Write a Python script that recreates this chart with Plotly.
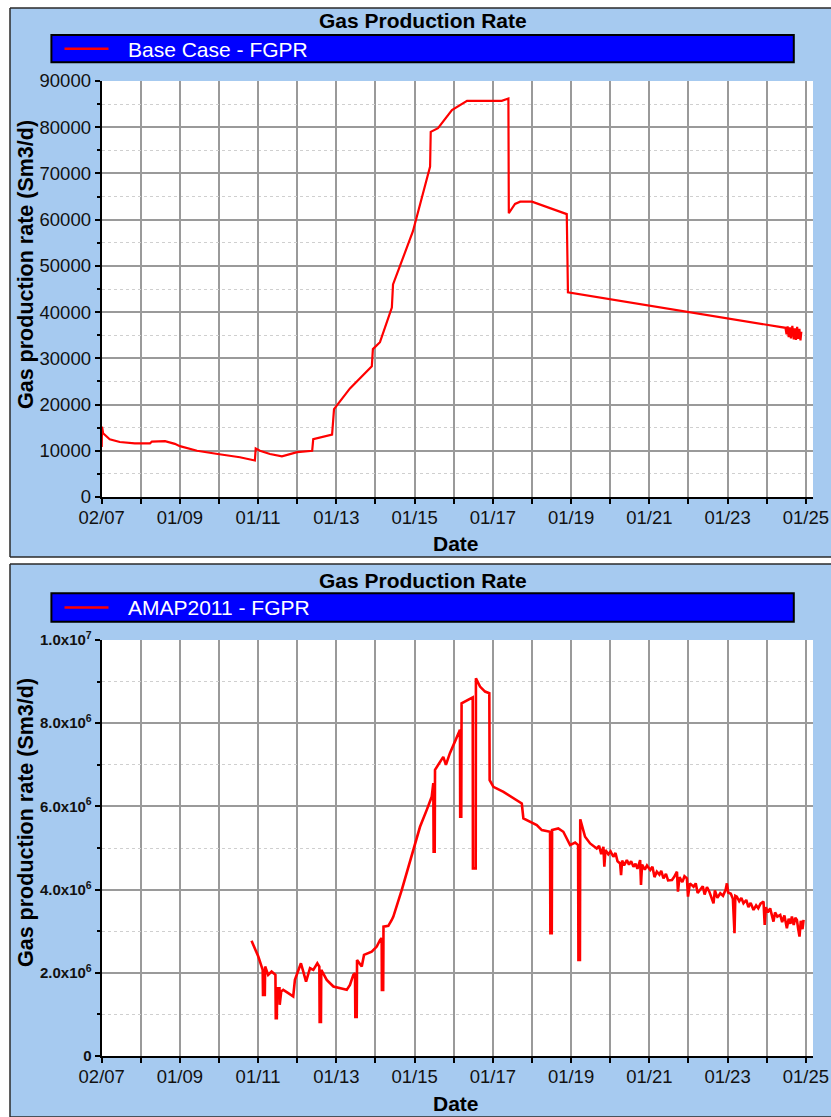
import plotly.graph_objects as go

# ---------------- data ----------------
# Base Case - FGPR (Sm3/d)
base_dates = [
    "2007-01-02", "2007-01-05", "2007-01-15", "2007-03-18", "2007-06-20", "2007-11-07",
    "2008-03-28", "2008-04-15", "2008-08-15", "2008-11-15", "2009-01-01", "2009-06-10",
    "2009-12-20", "2010-07-15", "2010-12-02", "2010-12-10", "2011-01-18", "2011-04-22",
    "2011-08-12", "2012-01-01", "2012-05-20", "2012-05-30", "2012-11-22", "2012-12-10",
    "2013-05-08", "2013-11-28", "2013-12-08", "2014-02-12", "2014-06-03", "2014-06-14",
    "2014-08-18", "2014-12-17", "2015-05-26", "2015-06-01", "2015-08-08", "2015-12-16",
    "2016-05-05", "2017-03-25", "2017-05-26", "2017-05-30", "2017-07-27", "2017-09-13",
    "2018-01-01", "2018-05-20", "2018-11-22", "2018-12-03", "2020-12-20", "2023-01-01",
    "2024-06-25", "2024-07-05", "2024-07-15", "2024-07-25", "2024-08-05", "2024-08-15",
    "2024-08-28", "2024-09-10", "2024-09-20", "2024-10-01", "2024-10-12", "2024-10-22",
    "2024-11-02", "2024-11-12", "2024-11-20",
]
base_fgpr = [
    10800, 15200, 13800, 12500, 11900, 11600,
    11600, 12000, 12100, 11500, 11000, 10000,
    9300, 8600, 7900, 10500, 10000, 9300,
    8800, 9700, 10000, 12500, 13500, 19000,
    23500, 28300, 32000, 33500, 41000, 46000,
    50000, 57500, 71500, 79000, 79800, 83700,
    85700, 85700, 86200, 61400, 63400, 63900,
    63900, 62700, 61200, 44300, 41500, 38700,
    36600, 35200, 36900, 34600, 36700, 34300,
    37000, 34100, 36500, 34000, 36800, 34200,
    36400, 33900, 35800,
]

# AMAP2011 - FGPR (Sm3/d)
amap_dates = [
    "2010-11-01", "2010-12-02", "2011-01-03", "2011-02-13", "2011-02-16", "2011-03-05",
    "2011-03-08", "2011-04-05", "2011-05-07", "2011-06-12", "2011-06-15", "2011-06-25",
    "2011-06-28", "2011-07-20", "2011-07-22", "2011-08-05", "2011-08-24", "2011-10-10",
    "2011-11-25", "2011-12-11", "2012-01-11", "2012-02-05", "2012-02-27", "2012-03-24",
    "2012-04-30", "2012-05-31", "2012-07-07", "2012-07-26", "2012-07-29", "2012-08-10",
    "2012-08-13", "2012-10-03", "2012-12-04", "2013-02-05", "2013-04-08", "2013-05-08",
    "2013-06-08", "2013-06-24", "2013-06-27", "2013-07-10", "2013-07-13", "2013-08-26",
    "2013-09-16", "2013-11-27", "2014-01-13", "2014-02-13", "2014-02-28", "2014-03-02",
    "2014-03-14", "2014-03-17", "2014-05-01", "2014-06-02", "2014-06-17", "2014-09-03",
    "2014-11-20", "2014-12-20", "2015-02-21", "2015-04-24", "2015-06-10", "2015-06-25",
    "2015-06-28", "2015-07-08", "2015-07-11", "2015-09-26", "2015-10-21", "2015-11-27",
    "2016-01-29", "2016-02-29", "2016-03-02", "2016-03-12", "2016-03-15", "2016-06-02",
    "2016-06-27", "2016-06-29", "2016-07-25", "2016-07-27", "2016-09-03", "2016-10-20",
    "2016-11-29", "2016-12-02", "2017-01-06", "2017-04-10", "2017-06-27", "2017-09-28",
    "2017-10-13", "2017-12-15", "2018-02-15", "2018-04-03", "2018-06-19", "2018-06-22",
    "2018-07-05", "2018-07-08", "2018-09-04", "2018-10-21", "2018-12-23", "2019-02-08",
    "2019-03-08", "2019-03-11", "2019-03-25", "2019-03-28", "2019-05-12", "2019-06-28",
    "2019-08-29", "2019-09-20", "2019-10-10", "2019-10-30", "2019-11-08", "2019-11-18",
    "2019-12-15", "2020-01-05", "2020-01-31", "2020-02-20", "2020-03-10", "2020-04-03",
    "2020-04-12", "2020-04-22", "2020-05-10", "2020-06-05", "2020-06-25", "2020-07-15",
    "2020-08-06", "2020-08-25", "2020-09-12", "2020-10-07", "2020-10-15", "2020-10-25",
    "2020-11-20", "2020-12-10", "2021-01-09", "2021-01-30", "2021-02-18", "2021-03-12",
    "2021-04-05", "2021-04-22", "2021-05-13", "2021-06-05", "2021-06-25", "2021-07-31",
    "2021-08-20", "2021-09-16", "2021-09-25", "2021-10-10", "2021-11-05", "2021-11-25",
    "2021-12-18", "2021-12-28", "2022-01-15", "2022-02-18", "2022-03-10", "2022-03-28",
    "2022-04-21", "2022-05-15", "2022-06-01", "2022-06-23", "2022-07-15", "2022-08-23",
    "2022-09-05", "2022-09-28", "2022-10-25", "2022-11-20", "2022-12-15", "2022-12-26",
    "2023-01-07", "2023-02-01", "2023-02-20", "2023-03-07", "2023-03-15", "2023-03-29",
    "2023-04-20", "2023-05-10", "2023-05-30", "2023-06-25", "2023-07-15", "2023-08-05",
    "2023-09-01", "2023-09-25", "2023-10-15", "2023-11-05", "2023-12-03", "2023-12-14",
    "2023-12-25", "2024-01-12", "2024-02-03", "2024-02-20", "2024-03-05", "2024-03-20",
    "2024-04-10", "2024-05-07", "2024-05-25", "2024-06-15", "2024-07-08", "2024-07-25",
    "2024-08-10", "2024-08-24", "2024-09-10", "2024-09-25", "2024-10-10", "2024-10-22",
    "2024-11-03", "2024-11-15", "2024-12-01", "2024-12-11",
]
amap_fgpr = [
    2.77e6, 2.59e6, 2.39e6, 2.07e6, 1.47e6, 1.47e6,
    2.15e6, 1.95e6, 2.03e6, 1.95e6, 0.91e6, 0.91e6,
    1.63e6, 1.63e6, 1.23e6, 1.55e6, 1.59e6, 1.51e6,
    1.43e6, 1.83e6, 2.07e6, 2.23e6, 2.03e6, 1.79e6,
    2.11e6, 2.07e6, 2.23e6, 2.15e6, 0.82e6, 0.82e6,
    2.07e6, 1.83e6, 1.67e6, 1.63e6, 1.59e6, 1.71e6,
    1.95e6, 1.99e6, 0.94e6, 0.94e6, 2.31e6, 2.15e6,
    2.43e6, 2.51e6, 2.63e6, 2.79e6, 2.83e6, 1.59e6,
    1.59e6, 3.11e6, 3.13e6, 3.27e6, 3.35e6, 3.99e6,
    4.71e6, 4.95e6, 5.51e6, 5.91e6, 6.23e6, 6.56e6,
    4.91e6, 4.91e6, 6.88e6, 7.19e6, 7.00e6, 7.28e6,
    7.64e6, 7.84e6, 5.75e6, 5.75e6, 8.48e6, 8.60e6,
    8.62e6, 4.51e6, 4.51e6, 9.08e6, 8.88e6, 8.76e6,
    8.72e6, 6.63e6, 6.47e6, 6.35e6, 6.23e6, 6.07e6,
    5.71e6, 5.63e6, 5.55e6, 5.43e6, 5.39e6, 2.95e6,
    2.95e6, 5.43e6, 5.47e6, 5.39e6, 5.07e6, 5.13e6,
    5.07e6, 2.31e6, 2.31e6, 5.69e6, 5.27e6, 5.11e6,
    4.99e6, 5.05e6, 4.85e6, 5.03e6, 4.55e6, 4.95e6,
    4.85e6, 4.92e6, 4.79e6, 4.88e6, 4.68e6, 4.63e6,
    4.35e6, 4.70e6, 4.58e6, 4.71e6, 4.60e6, 4.68e6,
    4.55e6, 4.62e6, 4.50e6, 4.71e6, 4.11e6, 4.60e6,
    4.48e6, 4.58e6, 4.47e6, 4.55e6, 4.30e6, 4.43e6,
    4.36e6, 4.45e6, 4.27e6, 4.38e6, 4.22e6, 4.23e6,
    4.30e6, 4.43e6, 3.95e6, 4.30e6, 4.18e6, 4.32e6,
    4.27e6, 3.83e6, 4.15e6, 4.07e6, 4.15e6, 3.92e6,
    3.99e6, 4.08e6, 3.88e6, 4.06e6, 3.95e6, 3.67e6,
    3.98e6, 3.80e6, 3.91e6, 3.85e6, 4.00e6, 4.15e6,
    3.93e6, 3.90e6, 3.78e6, 2.95e6, 3.85e6, 3.83e6,
    3.72e6, 3.80e6, 3.67e6, 3.75e6, 3.58e6, 3.68e6,
    3.51e6, 3.62e6, 3.55e6, 3.66e6, 3.71e6, 3.15e6,
    3.58e6, 3.45e6, 3.55e6, 3.40e6, 3.23e6, 3.45e6,
    3.35e6, 3.39e6, 3.22e6, 3.38e6, 3.07e6, 3.30e6,
    3.18e6, 3.35e6, 3.15e6, 3.32e6, 3.27e6, 3.05e6,
    2.87e6, 3.25e6, 3.05e6, 3.27e6,
]

# x-axis labels every second year (minor ticks/grid fill in the odd years)
x_tick_dates = ["2007-01-02", "2009-01-01", "2011-01-01", "2013-01-01", "2015-01-01",
                "2017-01-01", "2019-01-01", "2021-01-01", "2023-01-01", "2025-01-01"]
x_tick_text = ["02/07", "01/09", "01/11", "01/13", "01/15",
               "01/17", "01/19", "01/21", "01/23", "01/25"]

top_y_ticks = [0, 10000, 20000, 30000, 40000, 50000, 60000, 70000, 80000, 90000]
top_y_text = ["0", "10000", "20000", "30000", "40000", "50000", "60000", "70000", "80000", "90000"]
bot_y_ticks = [0, 2e6, 4e6, 6e6, 8e6, 1e7]
bot_y_text = ["0", "2.0x10<sup>6</sup>", "4.0x10<sup>6</sup>", "6.0x10<sup>6</sup>",
              "8.0x10<sup>6</sup>", "1.0x10<sup>7</sup>"]

chart_title = "Gas Production Rate"
legend_names = ["Base Case - FGPR", "AMAP2011 - FGPR"]
y_title = "Gas production rate (Sm3/d)"
x_title = "Date"

# ---------------- layout helpers ----------------
W, H = 831, 1117
FONT = "Liberation Sans, Arial, sans-serif"
PANEL = "#A6CAF0"
RED = "#FF0000"
GRID = "#9a9a9a"


def px(x):
    return min(max(x / W, 0.0), 1.0)


def py(y):
    return min(max(1 - y / H, 0.0), 1.0)


plot_x0, plot_x1 = 101.7, 813
panels = [
    dict(top=8, bottom=557, title=21, leg0=35, leg1=62.3, p0=81, p1=497, date=543, yt=265),
    dict(top=564, bottom=H, title=580, leg0=593.3, leg1=621.7, p0=640, p1=1056, date=1103, yt=823),
]

fig = go.Figure()
fig.add_trace(go.Scatter(x=base_dates, y=base_fgpr, mode="lines", name=legend_names[0],
                         line=dict(color=RED, width=2.2), xaxis="x", yaxis="y"))
fig.add_trace(go.Scatter(x=amap_dates, y=amap_fgpr, mode="lines", name=legend_names[1],
                         line=dict(color=RED, width=2.6), xaxis="x2", yaxis="y2"))

shapes = []
annotations = []
for i, p in enumerate(panels):
    # panel background with frame on the left, top and bottom
    shapes.append(dict(type="rect", xref="paper", yref="paper", layer="below",
                       x0=px(10), x1=1, y0=py(p["bottom"]), y1=py(p["top"]),
                       fillcolor=PANEL, line=dict(width=0)))
    for (xa, ya, xb, yb) in [(10, p["top"], W, p["top"]), (10, p["top"], 10, p["bottom"]),
                             (10, p["bottom"], W, p["bottom"])]:
        shapes.append(dict(type="line", xref="paper", yref="paper", layer="below",
                           x0=px(xa), x1=px(xb), y0=py(ya), y1=py(yb),
                           line=dict(color="#2a2a2a", width=1.5)))
    # white plotting area
    shapes.append(dict(type="rect", xref="paper", yref="paper", layer="below",
                       x0=px(plot_x0), x1=px(plot_x1), y0=py(p["p1"]), y1=py(p["p0"]),
                       fillcolor="white", line=dict(width=0)))
    # legend bar
    shapes.append(dict(type="rect", xref="paper", yref="paper",
                       x0=px(51.4), x1=px(793.8), y0=py(p["leg1"]), y1=py(p["leg0"]),
                       fillcolor="#0000FF", line=dict(color="black", width=2)))
    ly = (p["leg0"] + p["leg1"]) / 2
    shapes.append(dict(type="line", xref="paper", yref="paper",
                       x0=px(64.5), x1=px(108.5), y0=py(ly), y1=py(ly),
                       line=dict(color=RED, width=2.5)))
    annotations.append(dict(text=legend_names[i], xref="paper", yref="paper",
                            x=px(126), y=py(ly + 0.5), xanchor="left", yanchor="middle",
                            showarrow=False, font=dict(family=FONT, size=21, color="white")))
    annotations.append(dict(text=f"<b>{chart_title}</b>", xref="paper", yref="paper",
                            x=px(423), y=py(p["title"]), xanchor="center", yanchor="middle",
                            showarrow=False, font=dict(family=FONT, size=21, color="black")))
    annotations.append(dict(text=f"<b>{y_title}</b>", xref="paper", yref="paper",
                            x=px(26), y=py(p["yt"]), xanchor="center", yanchor="middle",
                            textangle=-90, showarrow=False,
                            font=dict(family=FONT, size=21.5, color="black")))
    annotations.append(dict(text=f"<b>{x_title}</b>", xref="paper", yref="paper",
                            x=px(456), y=py(p["date"]), xanchor="center", yanchor="middle",
                            showarrow=False, font=dict(family=FONT, size=21, color="black")))

xaxis_common = dict(
    type="date", range=["2007-01-02", "2025-03-09"], automargin=False,
    tickmode="array", tickvals=x_tick_dates, ticktext=x_tick_text,
    ticks="outside", ticklen=5, tickwidth=1.5, tickcolor="black",
    showline=True, linecolor="black", linewidth=2,
    showgrid=True, gridcolor=GRID, gridwidth=1.5, zeroline=False,
    tickfont=dict(family=FONT, size=18.5, color="#111"), ticklabelstandoff=-2,
    minor=dict(tick0="2008-01-01", dtick="M24", showgrid=True, gridcolor=GRID,
               gridwidth=1.5, ticks="outside", ticklen=5, tickwidth=1.5, tickcolor="black"),
    domain=[px(plot_x0), px(plot_x1)], fixedrange=True,
)
yaxis_common = dict(
    tickmode="array", ticks="outside", ticklen=5, tickwidth=1.5, tickcolor="black",
    showline=True, linecolor="black", linewidth=2, automargin=False,
    showgrid=True, gridcolor=GRID, gridwidth=1.5, zeroline=False,
)

fig.update_layout(
    width=W, height=H, margin=dict(l=0, r=0, t=0, b=0, pad=0), autosize=False,
    paper_bgcolor="white", plot_bgcolor="white", showlegend=False,
    xaxis=dict(xaxis_common, anchor="y"),
    xaxis2=dict(xaxis_common, anchor="y2"),
    yaxis=dict(yaxis_common, anchor="x", range=[0, 90000],
               tickvals=top_y_ticks, ticktext=top_y_text,
               domain=[py(panels[0]["p1"]), py(panels[0]["p0"])],
               tickfont=dict(family=FONT, size=18.5, color="#111"),
               minor=dict(tickmode="linear", tick0=0, dtick=5000, showgrid=True,
                          gridcolor="#cfcfcf", griddash="dot", gridwidth=1,
                          ticks="outside", ticklen=3, tickcolor="black")),
    yaxis2=dict(yaxis_common, anchor="x2", range=[0, 1e7],
                tickvals=bot_y_ticks, ticktext=bot_y_text,
                domain=[py(panels[1]["p1"]), py(panels[1]["p0"])],
                tickfont=dict(family=FONT, size=15, color="#111", weight="bold"),
                minor=dict(tickmode="linear", tick0=0, dtick=1e6, showgrid=True,
                           gridcolor="#cfcfcf", griddash="dot", gridwidth=1,
                           ticks="outside", ticklen=3, tickcolor="black")),
    shapes=shapes, annotations=annotations,
)

fig.write_html("out.html")
